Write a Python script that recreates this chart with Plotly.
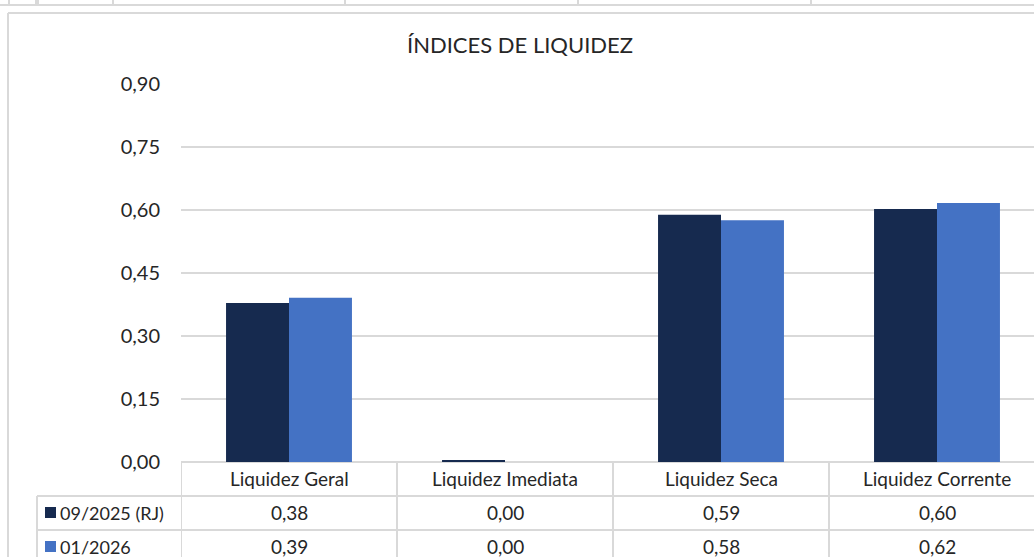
import plotly.graph_objects as go

categories = ["Liquidez Geral", "Liquidez Imediata", "Liquidez Seca", "Liquidez Corrente"]
series_names = ["09/2025 (RJ)", "01/2026"]
values_2025 = [0.379, 0.004, 0.589, 0.603]
values_2026 = [0.391, 0.0, 0.576, 0.617]
y_ticks = [0.0, 0.15, 0.30, 0.45, 0.60, 0.75, 0.90]
title_text = "ÍNDICES DE LIQUIDEZ"

colors = ["#162a4f", "#4472c4"]
grid = "#d9d9d9"
FONT = "Lato"
W, H = 1034, 557
L, R, T, B = 181, 0, 84, 95
PW = W - L - R
PH = H - T - B


def pxx(x):
    return (x - L) / PW


def pxy(y):
    return (H - B - y) / PH


fig = go.Figure()
for name, vals, col in zip(series_names, [values_2025, values_2026], colors):
    fig.add_trace(go.Bar(x=list(range(len(categories))), y=vals, name=name,
                         marker=dict(color=col, line=dict(width=0))))

shapes = []
annotations = []


def line(x0, y0, x1, y1, color=grid, width=2):
    shapes.append(dict(type="line", xref="paper", yref="paper",
                       x0=pxx(x0), y0=pxy(y0), x1=pxx(x1), y1=pxy(y1),
                       line=dict(color=color, width=width), layer="below"))


# spreadsheet strip at the top
line(0, 5, W, 5)
for vx in [9, 36, 38, 113, 345, 578, 811]:
    line(vx, 0, vx, 5)
# chart border
line(8, 13, W, 13)
line(8, 13, 8, H)

# data table
row_h = 34
y0 = H - B
rows_y = [y0, y0 + row_h, y0 + 2 * row_h]
line(37, rows_y[1], W, rows_y[1])
line(37, rows_y[2], W, rows_y[2])
line(37, rows_y[1], 37, H)
for k in range(len(categories) + 1):
    shapes.append(dict(type="line", xref="x", yref="paper",
                       x0=k - 0.5, x1=k - 0.5, y0=0, y1=pxy(H),
                       line=dict(color=grid, width=2), layer="below"))

TXT = "#262626"
tf = dict(family=FONT, size=19, color=TXT)
lf = dict(family=FONT, size=18, color=TXT)
for k, cat in enumerate(categories):
    annotations.append(dict(x=k, xref="x", y=pxy(y0 + row_h / 2), yref="paper",
                            text=cat, showarrow=False, font=tf,
                            xanchor="center", yanchor="middle"))
for r, (name, vals, col) in enumerate(zip(series_names, [values_2025, values_2026], colors)):
    cy = y0 + row_h * (r + 1) + row_h / 2 - 0.5
    shapes.append(dict(type="rect", xref="paper", yref="paper",
                       x0=pxx(45), x1=pxx(56), y0=pxy(cy - 5.5), y1=pxy(cy + 5.5),
                       fillcolor=col, line=dict(width=0)))
    annotations.append(dict(x=pxx(58), xref="paper", y=pxy(cy), yref="paper",
                            text=name, showarrow=False, font=lf,
                            xanchor="left", yanchor="middle"))
    for k, v in enumerate(vals):
        annotations.append(dict(x=k, xref="x", y=pxy(cy), yref="paper",
                                text=f"{v:.2f}".replace(".", ","), showarrow=False,
                                font=tf, xanchor="center", yanchor="middle"))

annotations.append(dict(x=pxx(520), xref="paper", y=pxy(45), yref="paper",
                        text=title_text, showarrow=False,
                        font=dict(family=FONT, size=22, color=TXT),
                        xanchor="center", yanchor="middle"))

fig.update_layout(
    width=W, height=H,
    margin=dict(l=L, r=R, t=T, b=B, pad=0),
    paper_bgcolor="white", plot_bgcolor="white",
    barmode="group", bargap=0.417, bargroupgap=0,
    showlegend=False,
    separators=",.",
    shapes=shapes, annotations=annotations,
    font=dict(family=FONT, size=19, color=TXT),
)
fig.update_xaxes(range=[-0.5, -0.5 + PW / 216.0], showticklabels=False,
                 showgrid=False, zeroline=False, showline=False, fixedrange=True)
fig.update_yaxes(range=[0, 0.9005], tickvals=y_ticks, tickformat=".2f",
                 showgrid=True, gridcolor=grid, gridwidth=2,
                 zeroline=True, zerolinecolor=grid, zerolinewidth=2,
                 showline=False, ticks="", ticklabelstandoff=20,
                 tickfont=dict(family=FONT, size=20, color=TXT))

fig.write_html("out.html", config={"displayModeBar": False},
               post_script="document.body.style.margin='0px';document.body.style.padding='0px';")
